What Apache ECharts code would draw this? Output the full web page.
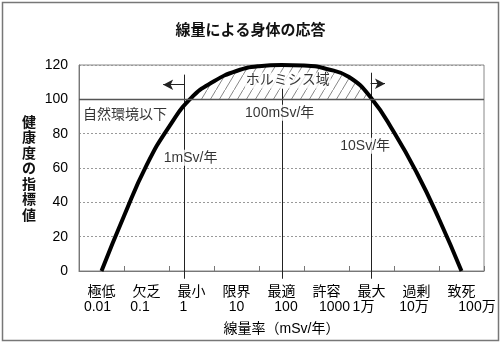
<!DOCTYPE html>
<html><head><meta charset="utf-8">
<script src="https://cdn.jsdelivr.net/npm/echarts@6/dist/echarts.min.js"></script>
<style>html,body{margin:0;padding:0;background:#fff}#c{width:501px;height:343px}</style>
</head><body><div id="c"></div>
<script>
// ---- data ----
const categories = ['極低','欠乏','最小','限界','最適','許容','最大','過剰','致死'];
const doseLabels = ['0.01','0.1','1','10','100','1000','1万','10万','100万'];
const curveX = [0.5, 1.0, 1.5, 2.0, 2.5, 3.0, 3.5, 4.0, 4.5, 5.0, 5.5, 6.0, 6.5, 7.0, 7.5, 8.0, 8.5];
const curveY = [0, 32, 61.5, 84, 101, 110.5, 116.5, 119.3, 120, 119.7, 117.7, 113, 100.5, 80.8, 57.5, 30.3, 0];
const yMin = 0, yMax = 120, yStep = 20;
const baseline = 100;
const hatchFrom = 2.5, hatchTo = 6.5;
const vLinesX = [2.34, 4.5, 6.48];
const vLinesTop = [114.4, 106.3, 115.5];
const vLinesBottom = -4.5;
const arrowLeft = {from: 2.34, to: 1.87, y: 108.5};
const arrowRight = {from: 6.48, to: 6.8, y: 109.1};
const noteTexts = ['自然環境以下', 'ホルミシス域', '100mSv/年', '1mSv/年', '10Sv/年'];
const noteX = [1.02, 4.64, 4.46, 2.48, 6.36];
const noteY = [91.0, 111.0, 92.2, 65.9, 72.9];

// ---- layout / style ----
const numLabelShift = [-4, -6.5, -8, 0, 4.5, 8, -8, -2.5, 15.5];
const FONT = '"Liberation Sans", "Noto Sans CJK JP", sans-serif';
const CJK = '"Noto Sans CJK JP", sans-serif';

const curve = curveX.map((x, i) => [x, curveY[i]]);
const hatch = curve.filter(p => p[0] >= hatchFrom && p[0] <= hatchTo);
hatch.unshift([hatchFrom - 0.06, baseline]);

const tile = document.createElement('canvas');
tile.width = 9; tile.height = 15;
const g = tile.getContext('2d');
g.strokeStyle = '#888'; g.lineWidth = 1;
g.beginPath(); g.moveTo(0, 15); g.lineTo(9, 0); g.stroke();

const rich = {};
numLabelShift.forEach((s, i) => {
  rich['s' + i] = {fontSize: 14, fontFamily: FONT, color: '#000',
    padding: s >= 0 ? [0, 0, 0, 2 * s] : [0, -2 * s, 0, 0]};
});

const chart = echarts.init(document.getElementById('c'), null, {renderer: 'canvas'});
chart.setOption({
  animation: false,
  backgroundColor: '#fff',
  title: {text: '線量による身体の応答', left: 'center', top: 17,
    textStyle: {fontFamily: CJK, fontSize: 15, fontWeight: 'bold', color: '#111'}},
  graphic: [{type: 'rect', shape: {x: 2.5, y: 2.5, width: 496, height: 338},
    style: {fill: 'none', stroke: '#777', lineWidth: 1.5}, silent: true}],
  grid: {left: 79, right: 17, top: 65, bottom: 72, show: true, borderColor: '#888', borderWidth: 1},
  xAxis: [
    {type: 'value', min: 0, max: 9, interval: 1, position: 'bottom',
      axisLine: {lineStyle: {color: '#777', width: 1}},
      axisTick: {show: true, inside: true, length: 5, lineStyle: {color: '#777'}},
      axisLabel: {show: false}, splitLine: {show: false},
      name: '線量率（mSv/年）', nameLocation: 'middle', nameGap: 51,
      nameTextStyle: {fontFamily: FONT, fontSize: 14, color: '#000'}},
    {type: 'category', data: categories, position: 'bottom', boundaryGap: true,
      axisLine: {show: false}, axisTick: {show: false},
      axisLabel: {interval: 0, margin: 13, fontFamily: CJK, fontSize: 14, color: '#000'}},
    {type: 'category', data: doseLabels, position: 'bottom', boundaryGap: true,
      axisLine: {show: false}, axisTick: {show: false},
      axisLabel: {interval: 0, margin: 29, color: '#000',
        formatter: (v, i) => '{s' + i + '|' + v + '}', rich: rich}}
  ],
  yAxis: {type: 'value', min: yMin, max: yMax, interval: yStep,
    axisLine: {show: true, lineStyle: {color: '#777'}},
    axisTick: {show: false},
    axisLabel: {fontFamily: FONT, fontSize: 14, color: '#000', margin: 11},
    splitLine: {lineStyle: {color: '#999', type: [2, 2], width: 1}},
    name: '健康度の指標値'.split('').join('\n'), nameLocation: 'middle', nameRotate: 0, nameGap: 43,
    nameTextStyle: {fontFamily: CJK, fontSize: 14, fontWeight: 'bold', color: '#111', lineHeight: 15.5}},
  series: [
    {type: 'line', data: hatch, xAxisIndex: 0, smooth: 0.5, showSymbol: false, z: 1,
      lineStyle: {width: 0, opacity: 0},
      areaStyle: {origin: baseline, opacity: 1, color: {image: tile, repeat: 'repeat'}}},
    {type: 'custom', xAxisIndex: 0, clip: false, z: 3, silent: true,
      data: vLinesX.map((x, i) => [x, vLinesBottom, vLinesTop[i]]),
      renderItem: (params, api) => {
        const p1 = api.coord([api.value(0), api.value(1)]);
        const p2 = api.coord([api.value(0), api.value(2)]);
        return {type: 'line', shape: {x1: Math.round(p1[0]) + 0.5, y1: p1[1], x2: Math.round(p2[0]) + 0.5, y2: p2[1]},
          style: {stroke: '#222', lineWidth: 1}};
      }},
    {type: 'line', data: [], xAxisIndex: 0, clip: false, z: 3,
      markLine: {silent: true, symbol: 'none', animation: false, label: {show: false},
        lineStyle: {color: '#222', width: 1, type: 'solid'},
        data: [
          [{coord: [0, baseline], lineStyle: {color: '#555', width: 1.3}}, {coord: [9, baseline]}],
          [{coord: [arrowLeft.from, arrowLeft.y], symbol: 'none'}, {coord: [arrowLeft.to, arrowLeft.y], symbol: 'arrow', symbolSize: [8, 10]}],
          [{coord: [arrowRight.from, arrowRight.y], symbol: 'none'}, {coord: [arrowRight.to, arrowRight.y], symbol: 'arrow', symbolSize: [8, 10]}]
        ]}},
    {type: 'line', data: curve, xAxisIndex: 0, smooth: 0.5, showSymbol: false, z: 4,
      lineStyle: {color: '#000', width: 4}},
    {type: 'scatter', xAxisIndex: 0, z: 5, symbolSize: 1, itemStyle: {color: 'rgba(0,0,0,0)'},
      data: noteTexts.map((t, i) => ({value: [noteX[i], noteY[i]], name: t})),
      label: {show: true, position: 'inside', formatter: p => p.name, fontFamily: FONT, fontSize: 14,
        color: '#000', backgroundColor: '#fff', padding: [1, 1]}}
  ]
});
</script></body></html>
